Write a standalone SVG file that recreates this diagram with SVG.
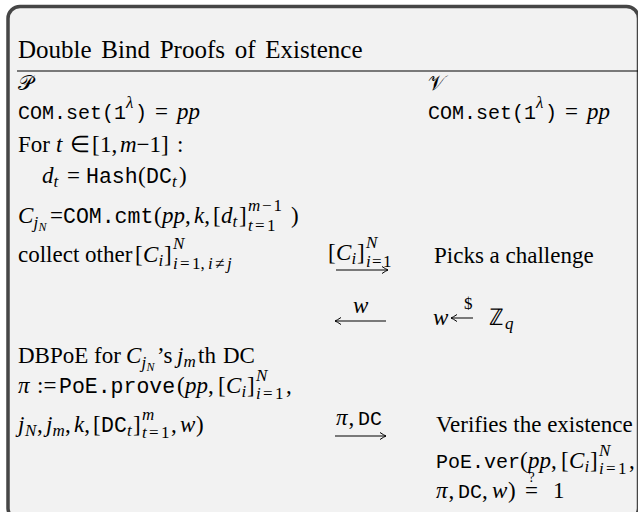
<svg xmlns="http://www.w3.org/2000/svg" width="638" height="512" viewBox="0 0 638 512">
<defs>
<style>
.t{font-family:"Liberation Serif","Times New Roman",serif;font-size:23px;fill:#000}
.i{font-style:italic}
.m{font-family:"Liberation Mono","DejaVu Sans Mono",monospace;font-size:20px}
.mb{font-family:"Liberation Mono","DejaVu Sans Mono",monospace;font-size:21.5px}
.s{font-size:17px}
.ss{font-size:12px}
.q{font-size:14px}
.cal{font-family:"DejaVu Serif","DejaVu Sans","Noto Sans",serif;font-size:21px}
.ar{stroke:#000;stroke-width:1;fill:none}
</style>
<marker id="ah" viewBox="-8 -5 9 10" refX="0" refY="0" markerWidth="9" markerHeight="10" orient="auto-start-reverse" markerUnits="userSpaceOnUse">
<path d="M-6,-3.5 Q-2,-0.8 0,0 Q-2,0.8 -6,3.5" fill="none" stroke="#000" stroke-width="1"/>
</marker>
</defs>
<rect x="0" y="0" width="638" height="512" fill="#ffffff"/>
<g id="frame">
<rect x="8" y="6.5" width="630.5" height="513.5" rx="12" ry="12" fill="#f2f2f2" stroke="#464646" stroke-width="3.5"/>
<text class="t" x="18" y="58" style="font-size:25px;word-spacing:3.5px">Double Bind Proofs of Existence</text>
<line x1="17" y1="71" x2="638" y2="71" stroke="#000" stroke-width="1.2"/>
</g>
<g id="prover">
<text class="t cal" x="18" y="90">𝒫</text>
<text class="t" y="119"><tspan class="m" x="18">COM.set(1</tspan><tspan class="i s" x="126" y="108">λ</tspan><tspan class="m" x="135" y="119">)</tspan><tspan x="155">=</tspan><tspan class="i" x="177">pp</tspan></text>
<text class="t" y="152"><tspan x="18">For</tspan><tspan class="i" x="56">t</tspan><tspan x="70">∈</tspan><tspan x="92">[</tspan><tspan x="100">1</tspan><tspan x="111.5">,</tspan><tspan class="i" x="120">m</tspan><tspan x="136.6">−</tspan><tspan x="149.6">1</tspan><tspan x="161">]</tspan><tspan x="177">:</tspan></text>
<text class="t" y="183"><tspan class="i" x="42">d</tspan><tspan class="i s" x="53.5" y="187">t</tspan><tspan x="67" y="183">=</tspan><tspan class="mb" x="86">Hash</tspan><tspan x="138">(</tspan><tspan class="mb" x="146">DC</tspan><tspan class="i s" x="172" y="187">t</tspan><tspan x="179" y="183">)</tspan></text>
<text class="t" y="223"><tspan class="i" x="18">C</tspan><tspan class="i s" x="33.5" y="228">j</tspan><tspan class="i ss" x="38.5" y="231">N</tspan><tspan x="50" y="223">=</tspan><tspan class="mb" x="63">COM.cmt</tspan><tspan x="154">(</tspan><tspan class="i" x="162">pp</tspan><tspan x="185">,</tspan><tspan class="i" x="194">k</tspan><tspan x="204.2">,</tspan><tspan x="213">[</tspan><tspan class="i" x="221">d</tspan><tspan class="i s" x="232.5" y="227">t</tspan><tspan x="239" y="223">]</tspan><tspan class="s i" x="248" y="211">m</tspan><tspan class="s" x="262" y="211">−</tspan><tspan class="s" x="273.5" y="211">1</tspan><tspan class="s i" x="248" y="231">t</tspan><tspan class="s" x="255" y="231">=</tspan><tspan class="s" x="267" y="231">1</tspan><tspan x="291" y="223">)</tspan></text>
<text class="t" y="262"><tspan x="18">collect other</tspan><tspan x="135">[</tspan><tspan class="i" x="143">C</tspan><tspan class="i s" x="158.5" y="266">i</tspan><tspan x="164" y="262">]</tspan><tspan class="s i" x="173" y="249">N</tspan><tspan class="s i" x="173" y="269">i</tspan><tspan class="s" x="180" y="269">=</tspan><tspan class="s" x="192" y="269">1</tspan><tspan class="s" x="200.5" y="269">,</tspan><tspan class="s i" x="208" y="269">i</tspan><tspan class="s" x="215" y="269">≠</tspan><tspan class="s i" x="227" y="269">j</tspan></text>
<text class="t" y="363"><tspan x="18">DBPoE for</tspan><tspan class="i" x="126">C</tspan><tspan class="i s" x="141.5" y="368">j</tspan><tspan class="i ss" x="146.5" y="371">N</tspan><tspan x="157" y="363">’s</tspan><tspan class="i" x="177">j</tspan><tspan class="i s" x="183.5" y="367">m</tspan><tspan x="198" y="363">th</tspan><tspan x="223">DC</tspan></text>
<text class="t" y="393"><tspan class="i" x="18">π</tspan><tspan x="37">:=</tspan><tspan class="mb" x="59">PoE.prove</tspan><tspan x="177">(</tspan><tspan class="i" x="185">pp</tspan><tspan x="208">,</tspan><tspan x="218">[</tspan><tspan class="i" x="226">C</tspan><tspan class="i s" x="241.5" y="397">i</tspan><tspan x="247" y="393">]</tspan><tspan class="s i" x="256" y="381">N</tspan><tspan class="s i" x="256" y="399">i</tspan><tspan class="s" x="263" y="399">=</tspan><tspan class="s" x="275" y="399">1</tspan><tspan x="286" y="393">,</tspan></text>
<text class="t" y="432"><tspan class="i" x="18">j</tspan><tspan class="i s" x="25" y="436">N</tspan><tspan x="37" y="432">,</tspan><tspan class="i" x="46">j</tspan><tspan class="i s" x="52.5" y="436">m</tspan><tspan x="65" y="432">,</tspan><tspan class="i" x="74">k</tspan><tspan x="84.2">,</tspan><tspan x="93">[</tspan><tspan class="mb" x="101">DC</tspan><tspan class="i s" x="127" y="436">t</tspan><tspan x="133" y="432">]</tspan><tspan class="s i" x="142" y="420">m</tspan><tspan class="s i" x="142" y="438">t</tspan><tspan class="s" x="149" y="438">=</tspan><tspan class="s" x="161" y="438">1</tspan><tspan x="171" y="432">,</tspan><tspan class="i" x="180">w</tspan><tspan x="196">)</tspan></text>
</g>
<g id="verifier">
<text class="t cal" x="428" y="90">𝒱</text>
<text class="t" y="119"><tspan class="m" x="428">COM.set(1</tspan><tspan class="i s" x="536" y="108">λ</tspan><tspan class="m" x="545" y="119">)</tspan><tspan x="565">=</tspan><tspan class="i" x="587">pp</tspan></text>
<text class="t" x="434" y="263">Picks a challenge</text>
<text class="t" y="325"><tspan class="i" x="433">w</tspan><tspan class="s" x="464" y="309">$</tspan><tspan x="489" y="325">ℤ</tspan><tspan class="i s" x="505" y="329">q</tspan></text>
<path class="ar" d="M451,318 H473" marker-start="url(#ah)"/>
<text class="t" x="436" y="432">Verifies the existence</text>
<text class="t" y="468"><tspan class="m" x="436">PoE.ver</tspan><tspan x="520">(</tspan><tspan class="i" x="528">pp</tspan><tspan x="551">,</tspan><tspan x="561">[</tspan><tspan class="i" x="569">C</tspan><tspan class="i s" x="584.5" y="472">i</tspan><tspan x="590" y="468">]</tspan><tspan class="s i" x="599" y="456">N</tspan><tspan class="s i" x="599" y="474">i</tspan><tspan class="s" x="606" y="474">=</tspan><tspan class="s" x="618" y="474">1</tspan><tspan x="629" y="468">,</tspan></text>
<text class="t" y="498"><tspan class="i" x="436">π</tspan><tspan x="448.5">,</tspan><tspan class="m" x="458">DC</tspan><tspan x="482">,</tspan><tspan class="i" x="492">w</tspan><tspan x="508">)</tspan><tspan x="525">=</tspan><tspan class="q" x="528.5" y="482">?</tspan><tspan x="553" y="498">1</tspan></text>
</g>
<g id="connectors">
<text class="t" y="260"><tspan x="328">[</tspan><tspan class="i" x="336">C</tspan><tspan class="i s" x="351.5" y="264">i</tspan><tspan x="357" y="260">]</tspan><tspan class="s i" x="366" y="248">N</tspan><tspan class="s i" x="366" y="267">i</tspan><tspan class="s" x="372" y="267">=</tspan><tspan class="s" x="383" y="267">1</tspan></text>
<path class="ar" d="M336,270 H388" marker-end="url(#ah)"/>
<text class="t i" x="353" y="313">w</text>
<path class="ar" d="M335,321 H386" marker-start="url(#ah)"/>
<text class="t" y="425"><tspan class="i" x="336">π</tspan><tspan x="348.5">,</tspan><tspan class="m" x="358">DC</tspan></text>
<path class="ar" d="M335,436 H386" marker-end="url(#ah)"/>
</g>
</svg>
